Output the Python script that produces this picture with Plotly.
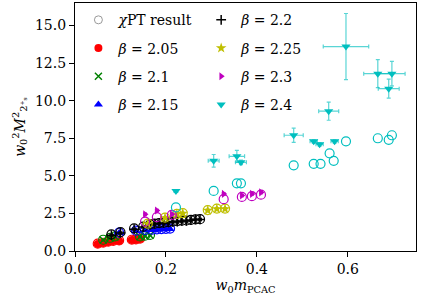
import plotly.graph_objects as go

# ---------------- data ----------------
betas = ["2.05", "2.1", "2.15", "2.2", "2.25", "2.3", "2.4"]

x_205 = [0.050, 0.062, 0.073, 0.084, 0.097, 0.125, 0.134, 0.143]
y_205 = [0.47, 0.53, 0.60, 0.67, 0.67, 0.73, 0.75, 0.80]
c_205 = [0.49, 0.55, 0.62, 0.68, 0.70, 0.75, 0.77, 0.82]

x_21 = [0.062, 0.077, 0.088, 0.143, 0.154, 0.165]
y_21 = [0.73, 0.87, 0.95, 0.95, 1.00, 1.05]
c_21 = [0.75, 0.88, 0.97, 0.97, 1.02, 1.07]

x_215 = [0.097, 0.134, 0.154, 0.170, 0.180, 0.190, 0.200, 0.209]
y_215 = [1.20, 1.33, 1.38, 1.40, 1.42, 1.45, 1.45, 1.47]
c_215 = [1.22, 1.35, 1.40, 1.42, 1.44, 1.46, 1.47, 1.49]

x_22 = [0.080, 0.100, 0.130, 0.150, 0.165, 0.175, 0.185, 0.195, 0.205, 0.215,
        0.225, 0.235, 0.245, 0.255, 0.265, 0.275]
y_22 = [1.05, 1.20, 1.45, 1.60, 1.75, 1.80, 1.85, 1.85, 1.90, 1.95,
        1.95, 2.00, 2.00, 2.05, 2.10, 2.10]
c_22 = [1.10, 1.25, 1.50, 1.62, 1.77, 1.82, 1.86, 1.88, 1.92, 1.96,
        1.98, 2.02, 2.03, 2.07, 2.11, 2.12]

x_225 = [0.160, 0.198, 0.224, 0.237, 0.292, 0.312, 0.330]
y_225 = [1.80, 2.20, 2.45, 2.50, 2.70, 2.80, 2.80]
c_225 = [1.82, 2.22, 2.47, 2.52, 2.72, 2.82, 2.82]

x_23 = [0.154, 0.180, 0.213, 0.327, 0.367, 0.389, 0.409]
y_23 = [2.45, 2.70, 2.45, 3.80, 3.70, 3.80, 3.90]
c_23 = [1.95, 2.25, 2.40, 3.45, 3.60, 3.65, 3.75]

x_24 = [0.222, 0.305, 0.356, 0.365, 0.481, 0.525, 0.538, 0.571, 0.558,
        0.596, 0.666, 0.697, 0.690]
y_24 = [4.0, 6.0, 6.3, 5.9, 7.7, 7.3, 7.1, 7.3, 9.3, 13.6, 11.8, 11.8, 10.8]
ex_24 = [0.004, 0.012, 0.017, 0.012, 0.021, 0.008, 0.008, 0.008, 0.022,
         0.050, 0.031, 0.029, 0.023]
ey_24 = [0.05, 0.42, 0.39, 0.15, 0.47, 0.12, 0.12, 0.12, 0.60, 2.2, 0.93, 0.82, 0.63]
cx_24 = [0.222, 0.305, 0.356, 0.365, 0.481, 0.525, 0.540, 0.569, 0.560,
         0.596, 0.666, 0.690, 0.697]
c_24 = [2.9, 4.0, 4.5, 4.5, 5.7, 5.8, 5.8, 6.0, 6.5, 7.3, 7.5, 7.4, 7.7]

# ---------------- styling ----------------
colors = {"2.05": "#ff0000", "2.1": "#008000", "2.15": "#0000ff", "2.2": "#000000",
          "2.25": "#bfbf00", "2.3": "#bf00bf", "2.4": "#00bfbf"}
bar_colors = {"2.05": "rgba(255,0,0,0.6)", "2.1": "rgba(0,128,0,0.6)",
              "2.15": "rgba(0,0,255,0.6)", "2.2": "rgba(0,0,0,0.7)",
              "2.25": "rgba(191,191,0,0.6)", "2.3": "rgba(191,0,191,0.6)",
              "2.4": "rgba(0,191,191,0.65)"}
symbols = {"2.05": "circle", "2.1": "x-thin", "2.15": "triangle-up", "2.2": "cross-thin",
           "2.25": "star", "2.3": "triangle-right", "2.4": "triangle-down"}
sizes = {"2.05": 8, "2.1": 7, "2.15": 8, "2.2": 7, "2.25": 8, "2.3": 7, "2.4": 8}

series = {
    "2.05": (x_205, y_205, None, None, x_205, c_205),
    "2.1": (x_21, y_21, None, None, x_21, c_21),
    "2.15": (x_215, y_215, None, None, x_215, c_215),
    "2.2": (x_22, y_22, None, None, x_22, c_22),
    "2.25": (x_225, y_225, None, None, x_225, c_225),
    "2.3": (x_23, y_23, None, None, x_23, c_23),
    "2.4": (x_24, y_24, ex_24, ey_24, cx_24, c_24),
}

FONT = "DejaVu Serif"
fig = go.Figure()

# legend entry for chiPT
fig.add_trace(go.Scatter(
    x=[None], y=[None], mode="markers", name="<i>χ</i>PT result",
    marker=dict(symbol="circle-open", size=8, color="#999999", line=dict(width=1)),
    legend="legend", legendrank=1, legendgroup="chi"))

col1 = ["2.05", "2.1", "2.15"]
for i, b in enumerate(betas):
    x, y, ex, ey, cx, cy = series[b]
    n = len(x)
    if ex is None:
        ex = [0.003] * n
    if ey is None:
        ey = [0.06] * n
    # chiPT open circles
    fig.add_trace(go.Scatter(
        x=cx, y=cy, mode="markers", showlegend=False, hoverinfo="skip",
        marker=dict(symbol="circle-open", size=9, color=colors[b], line=dict(width=1.2))))
    sym = symbols[b]
    mk = dict(symbol=sym, size=sizes[b], color=colors[b])
    if sym in ("x-thin", "cross-thin"):
        mk = dict(symbol=sym, size=sizes[b], color=colors[b], line=dict(width=1.5, color=colors[b]))
    fig.add_trace(go.Scatter(
        x=x, y=y, mode="markers", name=f"<i>β</i> = {b}",
        marker=mk,
        error_x=dict(type="data", array=ex, color=bar_colors[b], thickness=1.2, width=2),
        error_y=dict(type="data", array=ey, color=bar_colors[b], thickness=1.2, width=2),
        legend="legend" if b in col1 else "legend2",
        legendgroup="g" + b,
        legendrank=2 + i))

axis_common = dict(
    showline=True, linecolor="black", linewidth=1.2, mirror=True,
    ticks="outside", ticklen=5, tickwidth=1.2, tickcolor="black",
    showgrid=False, zeroline=False, tickformat=".1f", automargin=False,
    tickfont=dict(family=FONT, size=14, color="black"),
)

fig.update_layout(
    width=424, height=303,
    margin=dict(l=75, r=8, t=3, b=52),
    paper_bgcolor="white", plot_bgcolor="white",
    font=dict(family=FONT, size=14, color="black"),
    xaxis=dict(range=[0, 0.75], dtick=0.2, tick0=0,
               title=dict(text="<i>w</i><sub>0</sub><i>m</i><sub>PCAC</sub>",
                          font=dict(family=FONT, size=14), standoff=4),
               **axis_common),
    yaxis=dict(range=[0, 16.5], dtick=2.5, tick0=0,
               title=dict(text="<i>w</i><sub>0</sub><sup>2</sup><i>M</i><sup>2</sup><sub>2⁺ₛ</sub>",
                          font=dict(family=FONT, size=14), standoff=6),
               **axis_common),
    legend=dict(x=0.01, y=0.995, xanchor="left", yanchor="top",
                bgcolor="rgba(0,0,0,0)", font=dict(family=FONT, size=14),
                itemwidth=30, tracegroupgap=7),
    legend2=dict(x=0.37, y=0.995, xanchor="left", yanchor="top",
                 bgcolor="rgba(0,0,0,0)", font=dict(family=FONT, size=14),
                 itemwidth=30, tracegroupgap=7),
    showlegend=True,
)

fig.write_html("out.html",
               config={"displayModeBar": False},
               post_script="document.body.style.margin='0';document.body.style.padding='0';")
